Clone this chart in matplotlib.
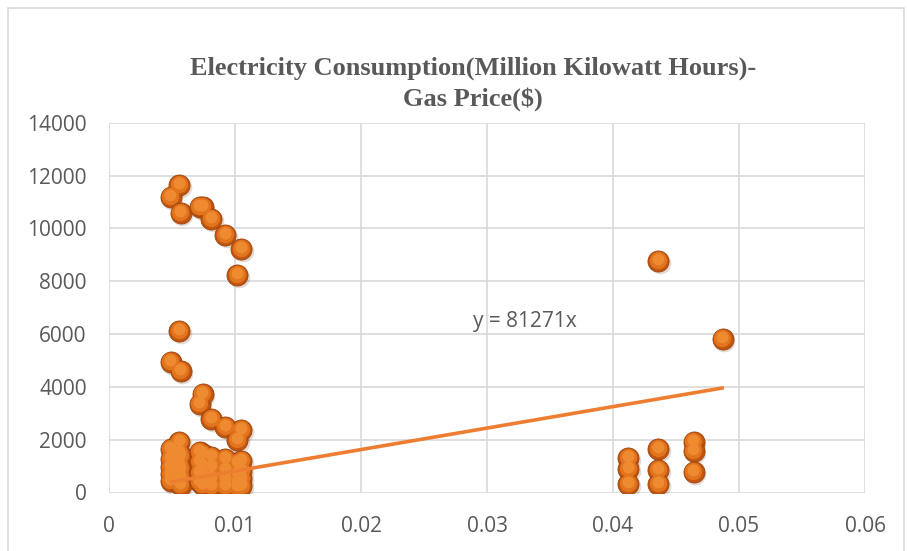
import matplotlib
matplotlib.use("Agg")
import matplotlib.pyplot as plt
import matplotlib.transforms as mtransforms
from matplotlib.patches import Rectangle
import numpy as np

# ---------------- data ----------------
gas_price_left = [0.00492, 0.00556, 0.00571, 0.00722, 0.00746, 0.00810, 0.00921, 0.01016, 0.01048]
consumption_top = [11170, 11660, 10570, 10790, 10790, 10340, 9735, 8230, 9200]
consumption_mid = [4940, 6110, 4600, 3360, 3740, 2790, 2490, 2000, 2380]
consumption_low = [
    [1650, 1250, 950, 700, 450],
    [1900, 1500, 1050, 800, 350],
    [1400, 900, 600, 300],
    [1550, 1150, 750, 400],
    [1450, 1000, 650, 300],
    [1350, 950, 550, 250],
    [1250, 850, 500, 250],
    [1100, 700, 400, 200],
    [1200, 800, 500, 250],
]
gas_price_right = [0.0412, 0.0412, 0.0412, 0.0436, 0.0436, 0.0436, 0.0436,
                   0.0464, 0.0464, 0.0464, 0.0487]
consumption_right = [1320, 900, 340, 8755, 1660, 870, 340, 1920, 1585, 790, 5810]
slope = 81271
trend_x = [0.00484, 0.0488]
x_ticks = [0, 0.01, 0.02, 0.03, 0.04, 0.05, 0.06]
x_tick_labels = ["0", "0.01", "0.02", "0.03", "0.04", "0.05", "0.06"]
y_ticks = [0, 2000, 4000, 6000, 8000, 10000, 12000, 14000]
title_lines = ["Electricity Consumption(Million Kilowatt Hours)-", "Gas Price($)"]
equation = "y = 81271x"

# assemble
xs, ys = [], []
for i, gx in enumerate(gas_price_left):
    xs += [gx, gx]
    ys += [consumption_top[i], consumption_mid[i]]
    for v in consumption_low[i]:
        xs.append(gx)
        ys.append(v)
xs += gas_price_right
ys += consumption_right
xs = np.array(xs)
ys = np.array(ys)

W, H, DPI = 907, 551, 100
fig = plt.figure(figsize=(W / DPI, H / DPI), dpi=DPI)
fig.patch.set_facecolor("white")

# outer border
fig.add_artist(Rectangle((8 / W, -0.05), (904 - 8) / W, (H - 8) / H + 0.05,
                         transform=fig.transFigure, fill=False,
                         edgecolor="#D9D9D9", linewidth=1.2))

ax = fig.add_axes([109 / W, 1 - 492.5 / H, (865 - 109) / W, (492.5 - 122.7) / H])
ax.set_xlim(0, 0.06)
ax.set_ylim(0, 14000)
ax.set_xticks(x_ticks)
ax.set_xticklabels(x_tick_labels)
ax.set_yticks(y_ticks)
ax.set_yticklabels([str(v) for v in y_ticks])
for s in ax.spines.values():
    s.set_visible(False)
ax.grid(True, color="#D9D9D9", linewidth=1.2)
ax.set_axisbelow(True)
ax.tick_params(length=0, labelsize=15, labelcolor="#595959", pad=16)
ax.tick_params(axis="x", pad=17)
for lab in ax.get_xticklabels() + ax.get_yticklabels():
    lab.set_fontfamily("Open Sans")

# spheres: shadow, body, lighter core, highlight
sz = 230
shadow = mtransforms.offset_copy(ax.transData, fig=fig, x=1.5, y=-2.0, units="dots")
ax.scatter(xs, ys, s=sz * 1.05, color="#7a5a40", alpha=0.22, linewidths=0,
           transform=shadow, zorder=2)
ax.scatter(xs, ys, s=sz, color="#C0560F", edgecolors="#9E440B", linewidths=0.6, zorder=3)
up = mtransforms.offset_copy(ax.transData, fig=fig, x=-0.5, y=1.0, units="dots")
ax.scatter(xs, ys, s=sz * 0.68, color="#E2741E", linewidths=0, transform=up, zorder=3)
up2 = mtransforms.offset_copy(ax.transData, fig=fig, x=-0.5, y=2.0, units="dots")
ax.scatter(xs, ys, s=sz * 0.32, color="#EE8A30", linewidths=0, transform=up2, zorder=3)

# trend line
tx = np.array(trend_x)
ax.plot(tx, slope * tx, color="#ED7D31", linewidth=2.6, solid_capstyle="butt", zorder=4)

ax.text(0.0330, 6460, equation, ha="center", va="center", fontsize=15,
        color="#595959", family="Open Sans")

# title
fig.text(473 / W, 1 - 68 / H, title_lines[0], ha="center", va="center",
         fontsize=19, fontweight="bold", color="#595959", family="Liberation Serif")
fig.text(473 / W, 1 - 99 / H, title_lines[1], ha="center", va="center",
         fontsize=19, fontweight="bold", color="#595959", family="Liberation Serif")

fig.savefig("out.png", dpi=DPI)
